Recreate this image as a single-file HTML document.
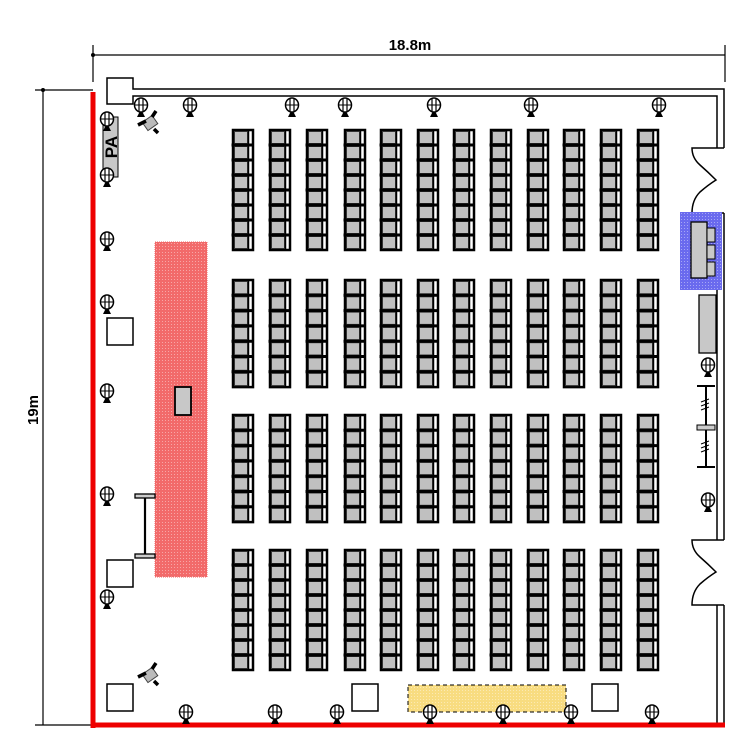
<!DOCTYPE html>
<html><head><meta charset="utf-8"><style>
html,body{margin:0;padding:0;background:#fff;width:750px;height:750px;overflow:hidden}
svg{display:block}
text{font-family:"Liberation Sans",sans-serif;font-weight:bold}
</style></head><body>
<svg id="s" width="750" height="750" viewBox="0 0 750 750" xmlns="http://www.w3.org/2000/svg">
<defs>
<pattern id="pk" width="3" height="3" patternUnits="userSpaceOnUse"><rect width="3" height="3" fill="#f26a6a"/><rect width="1" height="1" fill="#fff" opacity=".4"/></pattern>
<pattern id="bl" width="3" height="3" patternUnits="userSpaceOnUse"><rect width="3" height="3" fill="#6a6aee"/><rect width="1" height="1" fill="#fff" opacity=".4"/></pattern>
<pattern id="yl" width="3" height="3" patternUnits="userSpaceOnUse"><rect width="3" height="3" fill="#f8dc80"/><rect width="1" height="1" fill="#fff" opacity=".4"/></pattern>
<g id="lt"><ellipse cx="0" cy="-3" rx="6.5" ry="7" fill="#fff" stroke="#000" stroke-width="1.5"/><line x1="-2" y1="-10" x2="-2" y2="4" stroke="#000" stroke-width="1.2"/><line x1="2" y1="-10" x2="2" y2="4" stroke="#000" stroke-width="1.2"/><line x1="-6" y1="-3" x2="6" y2="-3" stroke="#000"/><path d="M-1.5 4 L1.5 4 L4 9 L-4 9Z" fill="#000"/></g>
<g id="cam"><rect x="-6" y="-5" width="12" height="10" fill="#bbb" stroke="#444" transform="rotate(-35)"/><path d="M-4 -2 L-12 2 M2 -6 L6 -12 M4 6 L8 10" stroke="#000" stroke-width="3.5"/></g>
</defs>
<line x1="93" y1="55" x2="725" y2="55" stroke="#000" stroke-width="1.2"/>
<line x1="93" y1="45" x2="93" y2="82" stroke="#000" stroke-width="1.2"/>
<line x1="725" y1="45" x2="725" y2="82" stroke="#000" stroke-width="1.2"/>
<circle cx="93" cy="55" r="2"/>
<text x="410" y="50" font-size="15" text-anchor="middle">18.8m</text>
<line x1="43" y1="90" x2="43" y2="725" stroke="#000" stroke-width="1.2"/>
<line x1="35" y1="90" x2="93" y2="90" stroke="#000" stroke-width="1.2"/>
<line x1="35" y1="725" x2="93" y2="725" stroke="#000" stroke-width="1.2"/>
<circle cx="43" cy="90" r="2"/>
<text x="38" y="410" font-size="15" text-anchor="middle" transform="rotate(-90 38 410)">19m</text>
<path d="M107 89 V78 H133 V89 H724 V148" fill="none" stroke="#000" stroke-width="1.5"/>
<path d="M107 89 V104 H133 V96 H717 V148" fill="none" stroke="#000" stroke-width="1.5"/>
<path d="M724 213 V540 M717 213 V540 M724 605 V725 M717 605 V725" stroke="#000" stroke-width="1.5"/>
<path d="M724 148 H692 Q692 158 700 165 Q708 172 716 180 Q708 185 700 192 Q692 200 692 213 H724" fill="none" stroke="#000" stroke-width="1.5"/>
<path d="M724 540 H692 Q692 550 700 557 Q708 564 716 572 Q708 577 700 584 Q692 592 692 605 H724" fill="none" stroke="#000" stroke-width="1.5"/>
<line x1="93" y1="92" x2="93" y2="728" stroke="#e00" stroke-width="5"/>
<line x1="91" y1="725" x2="725" y2="725" stroke="#e00" stroke-width="5"/>
<rect x="155" y="242" width="52" height="335" fill="url(#pk)" stroke="#e66" stroke-dasharray="1 1"/>
<rect x="175" y="387" width="16" height="28" fill="#c8c8c8" stroke="#000" stroke-width="1.8"/>
<path d="M145 496 V556" stroke="#000" stroke-width="2.2"/>
<rect x="135" y="494" width="20" height="4" fill="#ccc" stroke="#000" stroke-width="1.3"/>
<rect x="135" y="554" width="20" height="4" fill="#ccc" stroke="#000" stroke-width="1.3"/>
<rect x="107" y="318" width="26" height="27" fill="#fff" stroke="#000" stroke-width="1.5"/>
<rect x="107" y="560" width="26" height="27" fill="#fff" stroke="#000" stroke-width="1.5"/>
<rect x="107" y="684" width="26" height="27" fill="#fff" stroke="#000" stroke-width="1.5"/>
<rect x="352" y="684" width="26" height="27" fill="#fff" stroke="#000" stroke-width="1.5"/>
<rect x="592" y="684" width="26" height="27" fill="#fff" stroke="#000" stroke-width="1.5"/>
<rect x="408" y="685" width="158" height="27" fill="url(#yl)" stroke="#000" stroke-dasharray="4 3"/>
<rect x="103" y="117" width="15" height="60" fill="#c8c8c8" stroke="#000"/>
<text x="111" y="147" font-size="17" font-weight="normal" text-anchor="middle" transform="rotate(-90 111 147)" dy="6">PA</text>
<rect x="680" y="212" width="42" height="78" fill="url(#bl)"/>
<rect x="691" y="222" width="16" height="56" fill="#c8c8c8" stroke="#000" stroke-width="1.3"/>
<rect x="707" y="228" width="8" height="14" fill="#c8c8c8" stroke="#000"/>
<rect x="707" y="245" width="8" height="14" fill="#c8c8c8" stroke="#000"/>
<rect x="707" y="262" width="8" height="14" fill="#c8c8c8" stroke="#000"/>
<rect x="699" y="295" width="17" height="58" fill="#c8c8c8" stroke="#000" stroke-width="1.3"/>
<path d="M697 386 H715 M697 467 H715 M706 386 V467" stroke="#000" stroke-width="2"/>
<rect x="697" y="425" width="18" height="5" fill="#ccc" stroke="#000"/>
<path d="M701 402 l8 -3 M701 406 l8 -3 M701 410 l8 -3 M701 444 l8 -3 M701 448 l8 -3 M701 452 l8 -3" stroke="#000"/>
<g id="chairs"></g>
<g id="lights"></g>
<use href="#cam" x="150" y="123"/>
<use href="#cam" x="150" y="675"/>
</svg>
<script>
var g=document.getElementById("chairs");
var cols=[233,270,307,345,381,418,454,491,528,564,601,638];
var blocks=[[130,8],[280,7],[415,7],[550,8]];
var h="";
cols.forEach(function(x){blocks.forEach(function(b){
 var n=b[1],y0=b[0],ch=b[1]==8?15:15.3;
 h+='<rect x="'+x+'" y="'+y0+'" width="20" height="'+(n*ch)+'" fill="#fff" stroke="#000" stroke-width="2.5"/>';
 for(var i=0;i<n;i++){var y=y0+i*ch;
  h+='<rect x="'+(x+1.5)+'" y="'+(y+1.5)+'" width="13" height="'+(ch-3)+'" fill="#c0c0c0" stroke="#333" stroke-width="1"/>';
  h+='<line x1="'+(x+15.5)+'" y1="'+y+'" x2="'+(x+15.5)+'" y2="'+(y+ch)+'" stroke="#000" stroke-width="1.5"/>';
  if(i>0)h+='<line x1="'+(x-1.5)+'" y1="'+y+'" x2="'+(x+21)+'" y2="'+y+'" stroke="#000" stroke-width="3"/>';
 }
});});
g.innerHTML=h;
var L=[[141,108],[190,108],[292,108],[345,108],[434,108],[531,108],[659,108],
[107,122],[107,178],[107,242],[107,305],[107,394],[107,497],[107,600],
[186,715],[275,715],[337,715],[430,715],[503,715],[571,715],[652,715],[708,368],[708,503]];
var s="";L.forEach(function(p){s+='<use href="#lt" x="'+p[0]+'" y="'+p[1]+'"/>';});
document.getElementById("lights").innerHTML=s;
</script>
</body></html>
